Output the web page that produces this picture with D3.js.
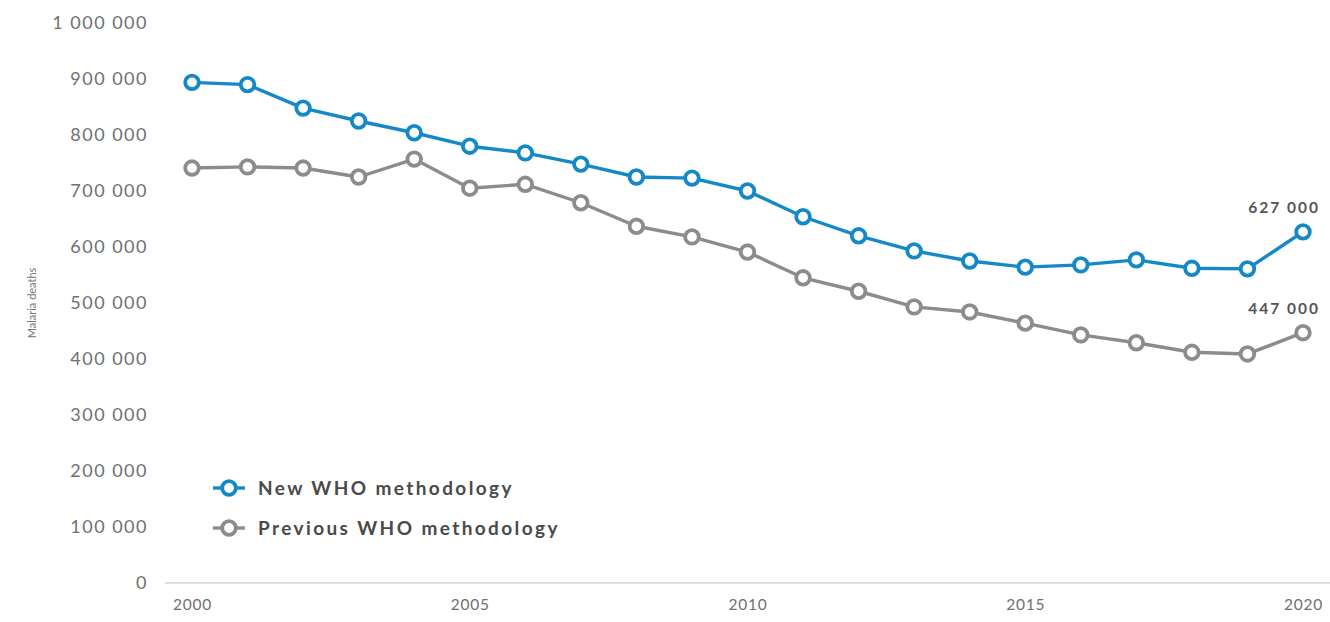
<!DOCTYPE html>
<html>
<head>
<meta charset="utf-8">
<script src="https://cdn.jsdelivr.net/npm/d3@7/dist/d3.min.js"></script>
<style>
  html, body { margin: 0; padding: 0; background: #fff; }
  svg { display: block; }
  .tick text { font-family: Lato, "Open Sans", sans-serif; }
</style>
</head>
<body>
<svg id="chart" width="1330" height="622"></svg>
<script>
// Estimated malaria deaths, 2000–2020
const years = d3.range(2000, 2021);
const newMethod = [894000, 890000, 848000, 825000, 804000, 780000, 768000, 748000, 725000, 723000,
                   700000, 654000, 620000, 593000, 575000, 564000, 568000, 577000, 562000, 561000, 627000];
const prevMethod = [741000, 743000, 741000, 725000, 757000, 705000, 712000, 679000, 637000, 618000,
                    591000, 545000, 521000, 493000, 484000, 464000, 443000, 429000, 412000, 409000, 447000];
const yTicks = [0, 100000, 200000, 300000, 400000, 500000, 600000, 700000, 800000, 900000, 1000000];
const xTicks = [2000, 2005, 2010, 2015, 2020];
const seriesNames = ["New WHO methodology", "Previous WHO methodology"];
const endLabels = ["627 000", "447 000"];

const colors = ["#1589c8", "#8c8c8c"];
const svg = d3.select("#chart");

const x = d3.scaleLinear().domain([2000, 2020]).range([192, 1303]);
const y = d3.scaleLinear().domain([0, 1000000]).range([583, 23]);

const fmt = v => d3.format(",")(v).replace(/,/g, " ");

// y axis (labels only)
const yAxis = svg.append("g")
  .attr("transform", "translate(148,0)")
  .call(d3.axisLeft(y).tickValues(yTicks).tickFormat(fmt).tickSize(0).tickPadding(0));
yAxis.select(".domain").remove();
yAxis.selectAll("text")
  .attr("font-size", 18)
  .attr("letter-spacing", 1.5).attr("fill", "#707070");

// baseline
svg.append("line")
  .attr("x1", 165).attr("x2", 1330)
  .attr("y1", y(0)).attr("y2", y(0))
  .attr("stroke", "#bdbdbd").attr("stroke-width", 1.2);

// x axis (labels only)
const xAxis = svg.append("g")
  .attr("transform", `translate(0,${y(0)})`)
  .call(d3.axisBottom(x).tickValues(xTicks).tickFormat(d3.format("d")).tickSize(0).tickPadding(16));
xAxis.select(".domain").remove();
xAxis.selectAll("text")
  .attr("font-size", 15.5)
  .attr("letter-spacing", 0.8).attr("fill", "#707070");

// y axis title
svg.append("text")
  .attr("transform", `translate(36,${y(500000)}) rotate(-90)`)
  .attr("text-anchor", "middle")
  .attr("font-family", "Lato, sans-serif")
  .attr("font-size", 11).attr("fill", "#777")
  .text("Malaria deaths");

const series = [newMethod, prevMethod];
const line = d3.line().x((d, i) => x(years[i])).y(d => y(d));

series.forEach((vals, s) => {
  const g = svg.append("g");
  g.append("path")
    .datum(vals)
    .attr("d", line)
    .attr("fill", "none")
    .attr("stroke", colors[s])
    .attr("stroke-width", 3.4)
    .attr("stroke-linejoin", "round");
  g.selectAll("circle")
    .data(vals)
    .join("circle")
    .attr("cx", (d, i) => x(years[i]))
    .attr("cy", d => y(d))
    .attr("r", 6.8)
    .attr("fill", "#fff")
    .attr("stroke", colors[s])
    .attr("stroke-width", 3.8);
  // end-of-series value label
  const last = vals.length - 1;
  svg.append("text")
    .attr("x", x(years[last]) + 17)
    .attr("y", y(vals[last]) - 19)
    .attr("text-anchor", "end")
    .attr("font-family", "Lato, sans-serif")
    .attr("font-weight", 700)
    .attr("font-size", 15.5)
    .attr("letter-spacing", 2)
    .attr("fill", "#555")
    .text(endLabels[s]);
});

// legend
const legend = svg.append("g");
seriesNames.forEach((name, s) => {
  const ly = 488 + s * 40;
  legend.append("line")
    .attr("x1", 213).attr("x2", 245).attr("y1", ly).attr("y2", ly)
    .attr("stroke", colors[s]).attr("stroke-width", 3.4);
  legend.append("circle")
    .attr("cx", 229).attr("cy", ly).attr("r", 6.8)
    .attr("fill", "#fff").attr("stroke", colors[s]).attr("stroke-width", 3.8);
  legend.append("text")
    .attr("x", 258).attr("y", ly)
    .attr("dy", "0.35em")
    .attr("font-family", "Lato, sans-serif")
    .attr("font-weight", 700)
    .attr("font-size", 19)
    .attr("letter-spacing", 2.4)
    .attr("fill", "#4a4a4a")
    .text(name);
});
</script>
</body>
</html>
